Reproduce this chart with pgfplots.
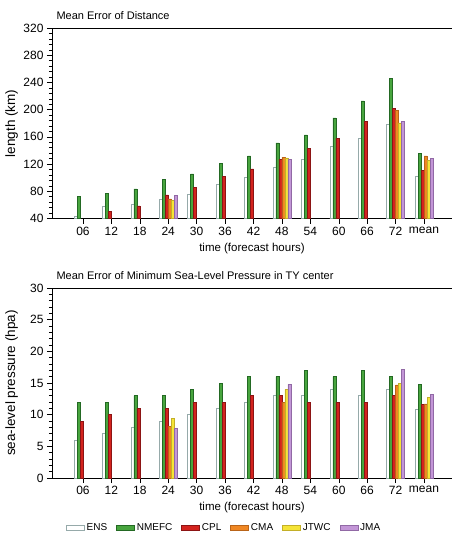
\documentclass[border=0pt]{standalone}
\usepackage{pgfplots}
\pgfplotsset{compat=1.18}
\usepackage{fontspec}
\setmainfont{Liberation Sans}
\definecolor{ensD}{RGB}{150,170,170}
\definecolor{nmF}{RGB}{72,165,62}
\definecolor{nmD}{RGB}{35,105,35}
\definecolor{cpF}{RGB}{212,35,30}
\definecolor{cpD}{RGB}{140,20,20}
\definecolor{cmF}{RGB}{240,135,35}
\definecolor{cmD}{RGB}{185,100,25}
\definecolor{jtF}{RGB}{245,228,55}
\definecolor{jtD}{RGB}{195,175,40}
\definecolor{jmF}{RGB}{195,150,215}
\definecolor{jmD}{RGB}{145,105,165}
\pgfplotsset{
  common/.style={
    scale only axis, width=404pt,
    xmin=-1.091, xmax=13.126,
    ybar=0pt, bar width=3pt,
    xtick={0,...,12},
    xticklabels={06,12,18,24,30,36,42,48,54,60,66,72,mean},
    tick align=outside, xtick pos=bottom, ytick pos=left,
    major tick length=5pt, minor tick length=3pt,
    minor y tick num=4,
    tick style={black, line width=0.5pt},
    axis line style={line width=0.8pt},
    /pgf/number format/assume math mode=true,
    ticklabel style={font=\fontsize{12}{14}\selectfont},
    label style={font=\fontsize{11.5}{14}\selectfont},
    title style={font=\fontsize{11}{13}\selectfont, at={(axis description cs:0,1)}, anchor=base west, yshift=3pt, xshift=1pt},
    xlabel={time (forecast hours)},
    xlabel style={at={(axis description cs:0.495,-0.155)}, anchor=center},
    ylabel style={at={(axis description cs:-0.1,0.5)}, anchor=center, rotate=0, font=\fontsize{13.5}{15}\selectfont},
    legend image code/.code={\draw[#1, line width=0.6pt] (0pt,-2.5pt) rectangle (18pt,2.5pt);},
  },
  ens/.style={draw=ensD, fill=white, line width=0.5pt},
  nm/.style={draw=nmD, fill=nmF, line width=0.5pt},
  cp/.style={draw=cpD, fill=cpF, line width=0.5pt},
  cm/.style={draw=cmD, fill=cmF, line width=0.5pt},
  jt/.style={draw=jtD, fill=jtF, line width=0.5pt},
  jm/.style={draw=jmD, fill=jmF, line width=0.5pt},
}
\begin{document}
\begin{tikzpicture}
\useasboundingbox (0,0) rectangle (451pt,-536pt);
\begin{axis}[common,
  at={(52pt,-28pt)}, anchor=north west, height=190.5pt,
  ymin=40, ymax=320, ytick={40,80,...,320},
  title={Mean Error of Distance},
  ylabel={length (km)},
]
\addplot[ens] coordinates {(0,44) (1,58) (2,60.5) (3,68.7) (4,76) (5,91) (6,100) (7,115) (8,126.5) (9,145.5) (10,158) (11,178.7) (12,101.5)};
\addplot[nm] coordinates {(0,72.7) (1,77) (2,83.4) (3,97) (4,105.6) (5,121.5) (6,132) (7,151) (8,163) (9,188) (10,213) (11,246) (12,136)};
\addplot[cp] coordinates {(1,51) (2,58.5) (3,74.6) (4,86) (5,102) (6,113) (7,127) (8,143.5) (9,158) (10,182.6) (11,201.6) (12,111)};
\addplot[cm] coordinates {(3,69) (7,130) (11,199) (12,132)};
\addplot[jt] coordinates {(3,66.8) (7,129) (11,180.6) (12,125)};
\addplot[jm] coordinates {(3,74) (7,127) (11,182.6) (12,128)};
\end{axis}
\begin{axis}[common,
  at={(52pt,-288pt)}, anchor=north west, height=190pt,
  ymin=0, ymax=30, ytick={0,5,...,30},
  title={Mean Error of Minimum Sea-Level Pressure in TY center},
  ylabel={sea-level pressure (hpa)},
  legend columns=6,
  legend style={draw=none, fill=none, at={(axis description cs:0.426,-0.263)}, anchor=center,
    font=\fontsize{10}{12}\selectfont,
    /tikz/every even column/.append style={column sep=7pt}},
]
\addplot[ens] coordinates {(0,6) (1,7) (2,8) (3,9) (4,10) (5,11) (6,12) (7,13) (8,13) (9,14) (10,13) (11,14) (12,10.85)};
\addplot[nm] coordinates {(0,12) (1,12) (2,13) (3,13) (4,14) (5,15) (6,16) (7,16) (8,17) (9,16) (10,17) (11,16) (12,14.75)};
\addplot[cp] coordinates {(0,9) (1,10) (2,11) (3,11) (4,12) (5,12) (6,13) (7,13) (8,12) (9,12) (10,12) (11,13) (12,11.6)};
\addplot[cm] coordinates {(3,8.1) (7,12) (11,14.7) (12,11.7)};
\addplot[jt] coordinates {(3,9.4) (7,14) (11,14.9) (12,12.7)};
\addplot[jm] coordinates {(3,7.8) (7,14.8) (11,17.2) (12,13.2)};
\legend{ENS,NMEFC,CPL,CMA,JTWC,JMA}
\end{axis}
\end{tikzpicture}
\end{document}
